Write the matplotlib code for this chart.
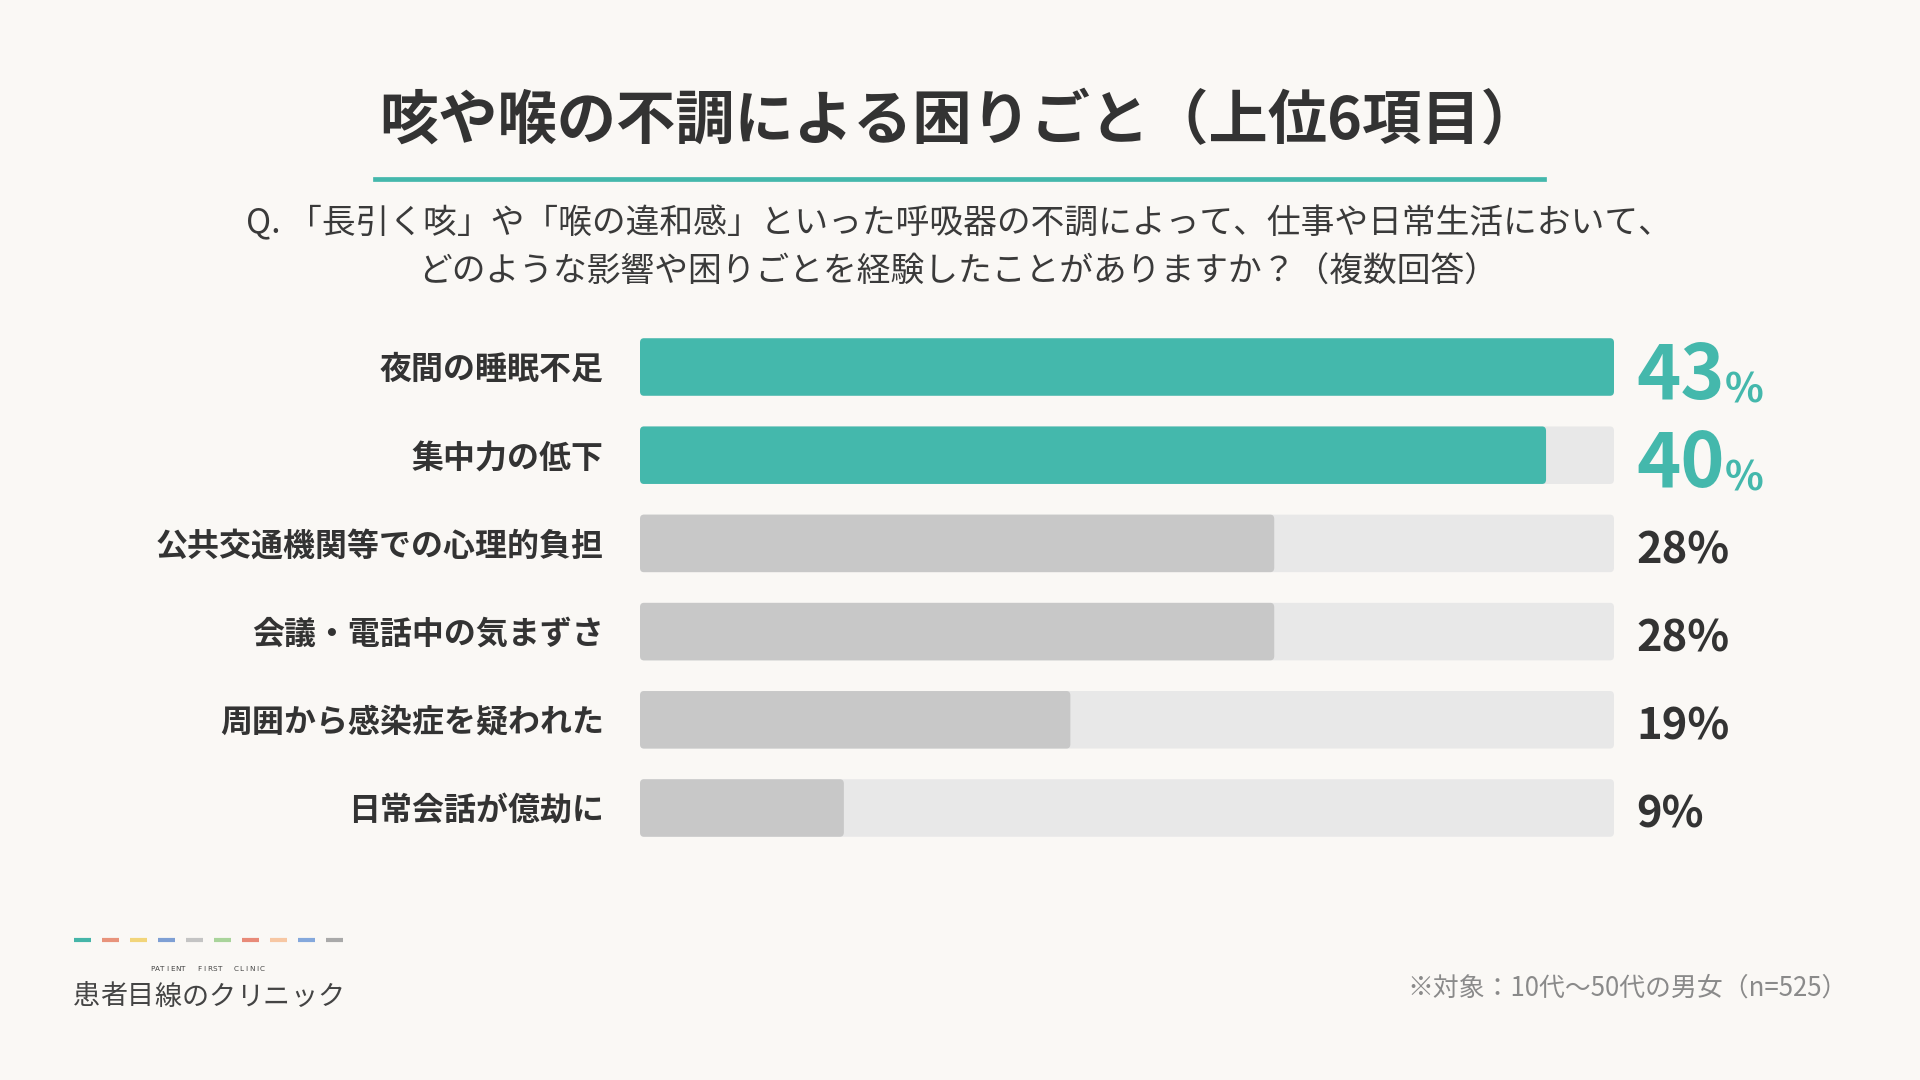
import matplotlib.pyplot as plt
from matplotlib.patches import FancyBboxPatch
from matplotlib.lines import Line2D

plt.rcParams['font.family'] = ['Noto Sans CJK JP', 'DejaVu Sans']

# data
title = '咳や喉の不調による困りごと（上位6項目）'
question = ['Q. 「長引く咳」や「喉の違和感」といった呼吸器の不調によって、仕事や日常生活において、',
            'どのような影響や困りごとを経験したことがありますか？（複数回答）']
categories = ['夜間の睡眠不足', '集中力の低下', '公共交通機関等での心理的負担',
              '会議・電話中の気まずさ', '周囲から感染症を疑われた', '日常会話が億劫に']
values = [43, 40, 28, 28, 19, 9]
highlight = [True, True, False, False, False, False]
note = '※対象：10代〜50代の男女（n=525）'
logo_en = 'PATIENT  FIRST  CLINIC'
logo_jp = '患者目線のクリニック'
logo_colors = ['#45b5a8', '#e8937b', '#f2d57a', '#7e9fd4', '#c4c4c4',
               '#a9d49b', '#e88a78', '#f7c7a3', '#84a8dc', '#a9a9a9']

BG = '#faf8f5'
TEAL = '#44b8ac'
DARK = '#333333'
W, H = 1920, 1080


def fx(x):
    return x / W


def fy(y):
    return 1 - y / H


fig = plt.figure(figsize=(19.2, 10.8), dpi=100, facecolor=BG)

# header
fig.text(fx(960), fy(122), title, ha='center', va='center', fontsize=42.7,
         fontweight='bold', color=DARK)
fig.add_artist(Line2D([fx(375), fx(1544)], [fy(179), fy(179)], color=TEAL,
                      lw=3.4, transform=fig.transFigure))
fig.text(fx(959), fy(224), question[0], ha='center', va='center', fontsize=24.3, color='#3a3a3a')
fig.text(fx(958), fy(272), question[1], ha='center', va='center', fontsize=24.3, color='#3a3a3a')

# bars
top, step = 367, 88.2
n = len(categories)
ax = fig.add_axes([fx(640), fy(top + (n - 0.5) * step), fx(1614) - fx(640), n * step / H])
ax.set_xlim(0, max(values))
ax.set_ylim(n - 0.5, -0.5)
ax.axis('off')

bh = 57.5 / step
r = 0.17
asp = (4.5 / step) / r
for i, (cat, v, hl) in enumerate(zip(categories, values, highlight)):
    ax.add_patch(FancyBboxPatch((0, i - bh / 2), max(values), bh,
                                boxstyle=f'round,pad=0,rounding_size={r}',
                                mutation_aspect=asp, fc='#e8e8e8', ec='none'))
    ax.add_patch(FancyBboxPatch((0, i - bh / 2), v, bh,
                                boxstyle=f'round,pad=0,rounding_size={r}',
                                mutation_aspect=asp, fc=TEAL if hl else '#c8c8c8', ec='none'))
    ax.annotate(cat, xy=(0, i), xytext=(-36, -3), textcoords='offset pixels',
                ha='right', va='center', fontsize=23, fontweight='bold', color=DARK)
    if hl:
        t = ax.annotate(str(v), xy=(max(values), i), xytext=(22, -32),
                        textcoords='offset pixels', ha='left', va='baseline',
                        fontsize=54, fontweight='bold', color=TEAL)
        ax.annotate('%', xy=(1, 0), xycoords=t, xytext=(0, 4),
                    textcoords='offset pixels', ha='left', va='bottom',
                    fontsize=29, fontweight='bold', color=TEAL)
    else:
        ax.annotate(f'{v}%', xy=(max(values), i), xytext=(22, -20),
                    textcoords='offset pixels', ha='left', va='baseline',
                    fontsize=31.3, fontweight='bold', color=DARK)

# footer
fig.text(fx(1848), fy(988), note, ha='right', va='center', fontsize=18.6, color='#8a8a8a')

for k, c in enumerate(logo_colors):
    x0 = 74 + k * 28.0
    fig.add_artist(Line2D([fx(x0), fx(x0 + 17)], [fy(940), fy(940)], color=c,
                          lw=3, solid_capstyle='butt', transform=fig.transFigure))
for k, ch in enumerate(logo_en):
    fig.text(fx(152 + k * 5.25), fy(969), ch, ha='center', va='center',
             fontsize=5.2, color='#444444', family='DejaVu Sans')
for k, ch in enumerate(logo_jp):
    fig.text(fx(86 + k * 27.2), fy(997), ch, ha='center', va='center',
             fontsize=19.5, color='#444444', fontweight='normal')

fig.savefig('out.png', dpi=100, facecolor=BG)
